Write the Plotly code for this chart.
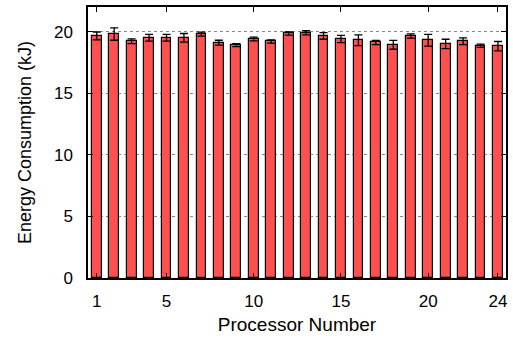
import plotly.graph_objects as go

# Per-processor energy consumption (kJ) with standard-deviation error bars
processors = list(range(1, 25))
energy_kj = [19.65, 19.8, 19.22, 19.5, 19.5, 19.5, 19.8, 19.1, 18.9, 19.4, 19.2, 19.85,
             19.9, 19.65, 19.4, 19.3, 19.12, 18.93, 19.65, 19.3, 19.0, 19.22, 18.85, 18.82]
energy_err = [0.32, 0.5, 0.2, 0.27, 0.27, 0.35, 0.16, 0.2, 0.12, 0.15, 0.13, 0.13,
              0.17, 0.27, 0.3, 0.44, 0.17, 0.36, 0.17, 0.47, 0.38, 0.27, 0.13, 0.38]
x_ticks = [1, 5, 10, 15, 20, 24]
y_ticks = [0, 5, 10, 15, 20]

font_family = "Liberation Sans, Arial, Helvetica, sans-serif"

fig = go.Figure()
fig.add_trace(go.Bar(
    x=processors,
    y=energy_kj,
    width=0.56,
    marker=dict(color="#ff5050", line=dict(color="black", width=1.2)),
    error_y=dict(type="data", array=energy_err, visible=True,
                 color="black", thickness=1.3, width=4),
))

axis_common = dict(
    showline=True, linecolor="black", linewidth=1.5, mirror="allticks",
    ticks="inside", ticklen=5, tickwidth=1, tickcolor="black",
    tickfont=dict(family=font_family, size=17, color="black"),
    zeroline=False,
)

fig.update_xaxes(
    **axis_common,
    range=[0.5, 24.46],
    tickvals=x_ticks,
    ticktext=[str(v) for v in x_ticks],
    showgrid=False,
    ticklabelstandoff=7,
    title=dict(text="Processor Number", font=dict(family=font_family, size=19, color="black"),
               standoff=8),
)
fig.update_yaxes(
    **axis_common,
    range=[0, 22],
    tickvals=y_ticks,
    showgrid=True, gridcolor="#888888", griddash="dot", gridwidth=1,
    ticklabelstandoff=10,
    title=dict(text="Energy Consumption (kJ)", font=dict(family=font_family, size=18, color="black"),
               standoff=18),
)

fig.update_layout(
    width=513, height=343,
    margin=dict(l=88, r=5, t=6, b=65),
    plot_bgcolor="white", paper_bgcolor="white",
    showlegend=False,
    bargap=0,
)

fig.write_html("out.html")
